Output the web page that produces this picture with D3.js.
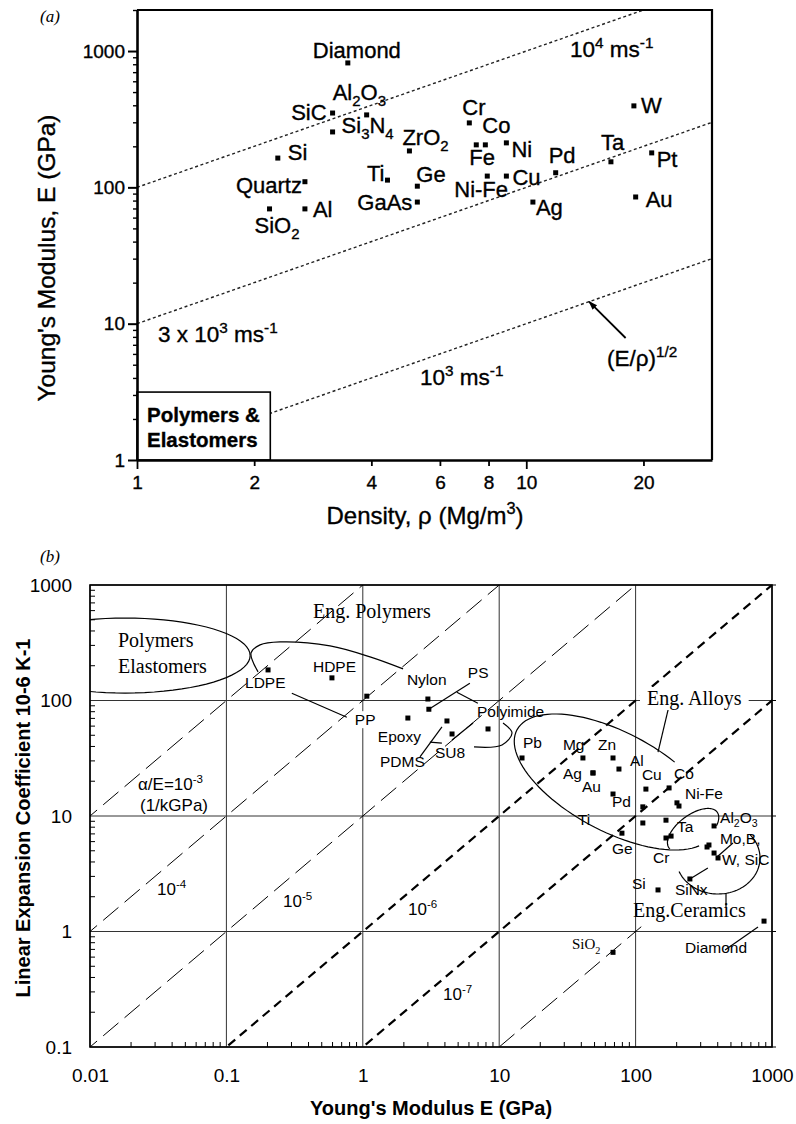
<!DOCTYPE html>
<html>
<head>
<meta charset="utf-8">
<script src="https://cdn.jsdelivr.net/npm/d3@7"></script>
<style>body{margin:0;background:#fff}</style>
</head>
<body>
<svg id="canvas" width="796" height="1124"></svg>
<script>
// ---------- (a) Young's modulus vs density ----------
let topNames = ["Diamond","SiC","Al_{2}O_{3}","Si_{3}N_{4}","Si","Quartz","SiO_{2}","Al","Ti","GaAs","ZrO_{2}","Ge",
                "Cr","Fe","Co","Ni","Pd","Ta","W","Pt","Au","Ag","Cu","Ni-Fe"]
let topDensity = [3.48,3.18,3.89,3.18,2.30,2.70,2.19,2.70,4.40,5.25,5.01,5.25,
                  7.14,7.44,7.85,8.89,11.9,16.5,18.9,21.0,19.1,10.4,8.89,7.94]
let topModulus = [818,351,340,255,164,110,69.5,69.5,113,78,185,102,
                  297,205,205,212,128,154,396,179,85,78,121,121]
let topRatios = [100, 10, 1]          // E / rho  -> 10^4, 3x10^3, 10^3 m/s
let topXTicks = [1,2,4,6,8,10,20]
let topYTicks = [1,10,100,1000]

// ---------- (b) expansion coefficient vs Young's modulus ----------
let botNames = ["LDPE","HDPE","PP","Nylon","PS","Epoxy","PDMS","SU8","Polyimide",
                "Pb","Mg","Zn","Al","Ag","Au","Pd","Cu","Co","Ni-Fe","","","Ti","","Ge","Cr","Ta",
                "Al_{2}O_{3}","Mo,B,","","W, SiC","","SiNx","Si","Diamond","SiO_{2}"]
let botModulus = [0.202,0.594,1.07,3.0,3.05,2.14,4.14,4.51,8.28,
                  14.7,41.1,68.3,75.5,48.7,48.7,68.3,119,176,201,208,113,113,167,79.4,167,182,
                  376,345,334,402,376,250,146,874,68.3]
let botExpansion = [184,157,109,103,84,70.5,66.5,51.3,56.7,
                    31.8,31.8,31.8,25.5,23.6,23.6,15.5,17.1,17.5,13.0,12.2,12.0,8.7,9.2,7.1,6.45,6.7,
                    8.2,5.61,5.39,4.33,4.78,2.85,2.29,1.23,0.66]
let ratioLines = [1000, 100, 10, 1, 0.1, 0.01]     // alpha / E
let ratioLabels = ["α/E=10^{-3}", "10^{-4}", "10^{-5}", "10^{-6}", "10^{-7}"]
let botXTicks = [0.01, 0.1, 1, 10, 100, 1000]
let botYTicks = [0.1, 1, 10, 100, 1000]

const SANS = "'Liberation Sans', Arial, sans-serif"
const SERIF = "'Liberation Serif', 'Times New Roman', serif"

let svg = d3.select("#canvas")

// text with ^{sup} and _{sub}
let richText = (text, str, fs) => {
    let parts = str.split(/([\^_]\{[^}]*\})/).filter(s => s !== "")
    let shift = 0
    parts.forEach(p => {
        let level = 0, txt = p
        if (p.startsWith("^{")) { level = -0.42; txt = p.slice(2, -1) }
        else if (p.startsWith("_{")) { level = 0.28; txt = p.slice(2, -1) }
        text.append("tspan")
            .attr("dy", ((level - shift) * fs).toFixed(2))
            .attr("font-size", level === 0 ? fs : fs * 0.68)
            .text(txt)
        shift = level
    })
}

let label = (g, x, y, str, fs, family, anchor, weight) => {
    let t = g.append("text")
        .attr("x", x).attr("y", y)
        .attr("font-size", fs)
        .attr("font-family", family)
        .attr("text-anchor", anchor || "start")
        .attr("font-weight", weight || "normal")
        .attr("fill", "#000")
    richText(t, str, fs)
    return t
}

let whiteBehind = (g, t, pad) => {
    let b = t.node().getBBox()
    g.insert("rect", () => t.node())
        .attr("x", b.x - pad).attr("y", b.y)
        .attr("width", b.width + 2 * pad).attr("height", b.height)
        .attr("fill", "#fff")
}

let ellipsePath = (cx, cy, rx, ry, rot, t0, t1) => {
    let r = rot * Math.PI / 180
    let pts = d3.range(0, 81).map(i => {
        let t = (t0 + (t1 - t0) * i / 80) * Math.PI / 180
        let ex = rx * Math.cos(t), ey = ry * Math.sin(t)
        return [cx + ex * Math.cos(r) - ey * Math.sin(r), cy + ex * Math.sin(r) + ey * Math.cos(r)]
    })
    return d3.line()(pts)
}

// =========================== (a) ===========================
let xA = d3.scaleLog().domain([1, 30]).range([137, 712])
let yA = d3.scaleLog().domain([1, 2000]).range([460, 10])
let gA = svg.append("g")

svg.append("defs").append("clipPath").attr("id", "clipA")
    .append("rect").attr("x", 137).attr("y", 10).attr("width", 575).attr("height", 450)

label(svg, 40, 22, "(a)", 17, SERIF).attr("font-style", "italic")

gA.append("g").attr("clip-path", "url(#clipA)")
    .selectAll("line").data(topRatios).join("line")
    .attr("x1", xA(1)).attr("y1", d => yA(d * 1))
    .attr("x2", xA(30)).attr("y2", d => yA(d * 30))
    .attr("stroke", "#222").attr("stroke-width", 1.4)
    .attr("stroke-dasharray", "3,2.6")

// polymers box
gA.append("rect")
    .attr("x", xA(1)).attr("y", yA(3.15))
    .attr("width", xA(2.2) - xA(1)).attr("height", yA(1) - yA(3.15))
    .attr("fill", "#fff").attr("stroke", "#000").attr("stroke-width", 1.6)
label(gA, 147, 422, "Polymers &", 20.5, SANS, "start", "bold")
label(gA, 147, 447, "Elastomers", 20.5, SANS, "start", "bold")

// arrow for (E/rho)^1/2
svg.select("defs").append("marker").attr("id", "arrow")
    .attr("viewBox", "0 0 10 10").attr("refX", 9).attr("refY", 5)
    .attr("markerWidth", 9).attr("markerHeight", 9).attr("orient", "auto-start-reverse")
    .attr("markerUnits", "userSpaceOnUse")
    .append("path").attr("d", "M0,1.5L10,5L0,8.5Z").attr("fill", "#000")
gA.append("line")
    .attr("x1", xA(18)).attr("y1", yA(7.85))
    .attr("x2", xA(14.5)).attr("y2", yA(14.5))
    .attr("stroke", "#000").attr("stroke-width", 1.8)
    .attr("marker-end", "url(#arrow)")

label(gA, 570, 57, "10^{4} ms^{-1}", 22.5, SANS)
label(gA, 158, 342, "3 x 10^{3} ms^{-1}", 22.5, SANS)
label(gA, 420, 385, "10^{3} ms^{-1}", 22.5, SANS)
label(gA, 607, 366, "(E/ρ)^{1/2}", 22.5, SANS)

// axes
let gYA = gA.append("g").attr("transform", `translate(${xA(1)},0)`)
    .call(d3.axisLeft(yA).tickValues(yA.ticks()).tickFormat(d => topYTicks.includes(d) ? d : "").tickSizeOuter(0))
gYA.attr("font-family", SANS).attr("font-size", 19)
gYA.select(".domain").attr("stroke-width", 2.6)
gYA.selectAll(".tick line")
    .attr("x2", d => topYTicks.includes(d) ? -9 : -4)
    .attr("stroke-width", d => topYTicks.includes(d) ? 2 : 1.4)
gYA.selectAll(".tick text").attr("x", -12).attr("fill", "#000")

let gXA = gA.append("g").attr("transform", `translate(0,${yA(1)})`)
    .call(d3.axisBottom(xA).tickValues(topXTicks).tickFormat(d3.format("d")).tickSize(6).tickSizeOuter(0))
gXA.attr("font-family", SANS).attr("font-size", 19)
gXA.select(".domain").attr("stroke-width", 2.6)
gXA.selectAll(".tick line").attr("y2", d => (d === 1 || d === 10) ? 9 : 6).attr("stroke-width", 1.8)
gXA.selectAll(".tick text").attr("y", 16).attr("fill", "#000")

gA.append("path")
    .attr("d", `M${xA(1)},${yA(2000)}H${xA(30)}V${yA(1)}`)
    .attr("fill", "none").attr("stroke", "#000").attr("stroke-width", 2.2)

// points
gA.selectAll(".pt").data(topNames).join("rect").attr("class", "pt")
    .attr("x", (d, i) => xA(topDensity[i]) - 2.5)
    .attr("y", (d, i) => yA(topModulus[i]) - 2.5)
    .attr("width", 5).attr("height", 5).attr("fill", "#000")

let topLabelPos = [[-35,-5,"start"],[-6,7,"end"],[-34,-15,"start"],[9,1,"start"],[10,2,"start"],[-3,11,"end"],
    [-15,24,"start"],[8,8,"start"],[-3,1,"end"],[-5,8,"end"],[-7,-6,"start"],[-1,-4,"start"],
    [-7,-8,"start"],[-7,20,"start"],[-3,-12,"start"],[5,14,"start"],[-7,-10,"start"],[-10,-12,"start"],
    [7,7,"start"],[5,14,"start"],[10,10,"start"],[3,13,"start"],[6,9,"start"],[-33,21,"start"]]
topNames.forEach((n, i) => {
    let p = topLabelPos[i]
    label(gA, xA(topDensity[i]) + p[0], yA(topModulus[i]) + p[1], n, 22, SANS, p[2])
})

label(gA, 425, 524, "Density, ρ (Mg/m^{3})", 24, SANS, "middle")
label(gA, 0, 0, "Young's Modulus, E (GPa)", 24.5, SANS, "middle")
    .attr("transform", "translate(55,258) rotate(-90)")

// scanned figure: slightly heavier text
gA.selectAll("text").attr("stroke", "#000").attr("stroke-width", 0.35)

// =========================== (b) ===========================
let xB = d3.scaleLog().domain([0.01, 1000]).range([90, 772])
let yB = d3.scaleLog().domain([0.1, 1000]).range([1047, 585])
let gB = svg.append("g")

svg.select("defs").append("clipPath").attr("id", "clipB")
    .append("rect").attr("x", 90).attr("y", 585).attr("width", 682).attr("height", 462)

label(gB, 40, 562, "(b)", 17, SERIF).attr("font-style", "italic")

// grid
gB.selectAll(".gx").data(botXTicks).join("line").attr("class", "gx")
    .attr("x1", d => xB(d)).attr("x2", d => xB(d))
    .attr("y1", yB(0.1)).attr("y2", yB(1000))
    .attr("stroke", "#333").attr("stroke-width", 1)
gB.selectAll(".gy").data(botYTicks).join("line").attr("class", "gy")
    .attr("y1", d => yB(d)).attr("y2", d => yB(d))
    .attr("x1", xB(0.01)).attr("x2", xB(1000))
    .attr("stroke", "#333").attr("stroke-width", 1)

// alpha/E lines
let gL = gB.append("g").attr("clip-path", "url(#clipB)")
ratioLines.forEach(k => {
    let thick = (k === 1 || k === 0.1)
    let e0 = k === 0.01 ? 10 : 0.001
    let e1 = k === 0.01 ? 110 : 10000
    gL.append("line")
        .attr("x1", xB(e0)).attr("y1", yB(k * e0))
        .attr("x2", xB(e1)).attr("y2", yB(k * e1))
        .attr("stroke", "#000")
        .attr("stroke-width", thick ? 2.2 : 1)
        .attr("stroke-dasharray", thick ? "9,6" : "20,8")
})

// region outlines
let gO = gB.append("g").attr("fill", "none").attr("stroke", "#000").attr("stroke-width", 1.2)
gO.append("path").attr("clip-path", "url(#clipB)")
    .attr("d", ellipsePath(xB(0.0181), yB(245), 125, 37.5, 0, 0, 360))
gO.append("path").attr("d", ellipsePath(xB(70.6), yB(19.7), 111, 49.5, 28, 20, 293))
gO.append("path").attr("d", ellipsePath(xB(264), yB(7.56), 30, 15, -36.7, -185, 45))
gO.append("path").attr("d", ellipsePath(xB(402), yB(4.33), 42, 36, 0, -41, 158))
gO.append("line")
    .attr("x1", xB(146)).attr("y1", yB(35.8)).attr("x2", xB(173)).attr("y2", yB(82.8))
gO.append("line")
    .attr("x1", xB(460)).attr("y1", yB(2.15)).attr("x2", xB(460)).attr("y2", yB(1.63))

// leaders relative to a point
let idx = n => botNames.indexOf(n)
let px = i => [xB(botModulus[i]), yB(botExpansion[i])]
let leaders = [["PP", [[-75,-3],[-20,21]]], ["PS", [[0,0],[41,-26]]], ["PS", [[28,-17],[49,-6]]],
    ["PDMS", [[-27,36],[-5,6]]], ["Epoxy", [[22,24],[34,25]]], ["SU8", [[0,6],[21,-11]]],
    ["Diamond", [[-39,29],[-6,6]]], ["SiNx", [[0,0],[18,-11]]], ["Mo,B,", [[24,-2],[8,12]]]]
leaders.forEach(l => {
    let [x0, y0] = px(idx(l[0]))
    gO.append("path").attr("d", d3.line()(l[1].map(o => [x0 + o[0], y0 + o[1]])))
})
let curves = [["Polyimide", [[-14,18],[14,16],[24,4],[15,-6]]],
    ["LDPE", [[-10,2],[-17,-17],[-8,-25],[12,-28],[62,-24],[102,-13],[135,-1]]]]
curves.forEach(l => {
    let [x0, y0] = px(idx(l[0]))
    gO.append("path").attr("d", d3.line().curve(d3.curveCatmullRom)(l[1].map(o => [x0 + o[0], y0 + o[1]])))
})

// points
gB.selectAll(".pt").data(botNames).join("rect").attr("class", "pt")
    .attr("x", (d, i) => xB(botModulus[i]) - 2.5)
    .attr("y", (d, i) => yB(botExpansion[i]) - 2.5)
    .attr("width", 5).attr("height", 5).attr("fill", "#000")

let botLabelPos = [[-23,18],[-19,-6],[-12,29],[-21,-14],[39,-31],[-30,24],[-67,46],[-17,24],[-11,-12],
    [1,-10],[-20,-8],[-15,-8],[11,-3],[-30,6],[-11,19],[-1,13],[-4,-9],[5,-9],[8,-4],null,null,[-65,2],null,
    [-10,21],[-13,25],[6,-4],[6,-3],[11,-1],null,[4,7],null,[-15,16],[-26,-1],[-79,32],[-41,-3]]
botNames.forEach((n, i) => {
    let p = botLabelPos[i]
    if (!p || n === "") return
    let [x0, y0] = px(i)
    let serif = n.startsWith("SiO")
    let t = label(gB, x0 + p[0], y0 + p[1], n, serif ? 15 : 15.5, serif ? SERIF : SANS)
    if (n === "PP") whiteBehind(gB, t, 2)
})

// region and line labels
label(gB, 118, 647, "Polymers", 20, SERIF)
label(gB, 118, 673, "Elastomers", 20, SERIF)
label(gB, 313, 618, "Eng. Polymers", 20, SERIF)
whiteBehind(gB, label(gB, 647, 705, "Eng. Alloys", 20, SERIF), 7)
label(gB, 633, 917, "Eng.Ceramics", 20, SERIF)

let ratioLabelPos = [[138,790],[157,895],[283,907],[408,915],[443,1000]]
ratioLabels.forEach((s, i) => label(gB, ratioLabelPos[i][0], ratioLabelPos[i][1], s, 17, SANS))
label(gB, 140, 811, "(1/kGPa)", 17, SANS)

// border and ticks
gB.append("rect").attr("x", xB(0.01)).attr("y", yB(1000))
    .attr("width", xB(1000) - xB(0.01)).attr("height", yB(0.1) - yB(1000))
    .attr("fill", "none").attr("stroke", "#000").attr("stroke-width", 1.6)

let minorX = xB.ticks().filter(d => !botXTicks.some(v => Math.abs(v - d) < 1e-9))
let minorY = yB.ticks().filter(d => !botYTicks.some(v => Math.abs(v - d) < 1e-9))
gB.selectAll(".mx").data(minorX).join("line").attr("class", "mx")
    .attr("x1", d => xB(d)).attr("x2", d => xB(d))
    .attr("y1", yB(0.1)).attr("y2", yB(0.1) - 5).attr("stroke", "#000")
gB.selectAll(".my").data(minorY).join("line").attr("class", "my")
    .attr("y1", d => yB(d)).attr("y2", d => yB(d))
    .attr("x1", xB(0.01)).attr("x2", xB(0.01) + 5).attr("stroke", "#000")
gB.selectAll(".ry").data(botYTicks).join("line").attr("class", "ry")
    .attr("y1", d => yB(d)).attr("y2", d => yB(d))
    .attr("x1", xB(1000)).attr("x2", xB(1000) + 4).attr("stroke", "#000")

let gYB = gB.append("g").attr("transform", `translate(${xB(0.01)},0)`)
    .call(d3.axisLeft(yB).tickValues(botYTicks).tickFormat(d => String(d)).tickSize(0).tickPadding(18))
gYB.attr("font-family", SANS).attr("font-size", 19)
gYB.select(".domain").remove()
gYB.selectAll(".tick text").attr("fill", "#000")

let gXB = gB.append("g").attr("transform", `translate(0,${yB(0.1)})`)
    .call(d3.axisBottom(xB).tickValues(botXTicks).tickFormat(d => String(d)).tickSize(0))
gXB.attr("font-family", SANS).attr("font-size", 19)
gXB.select(".domain").remove()
gXB.selectAll(".tick text").attr("y", 22).attr("fill", "#000")

label(gB, 431, 1115, "Young's Modulus E (GPa)", 20, SANS, "middle", "bold")
label(gB, 0, 0, "Linear Expansion Coefficient 10-6 K-1", 20, SANS, "middle", "bold")
    .attr("transform", "translate(30,818) rotate(-90)")
</script>
</body>
</html>
